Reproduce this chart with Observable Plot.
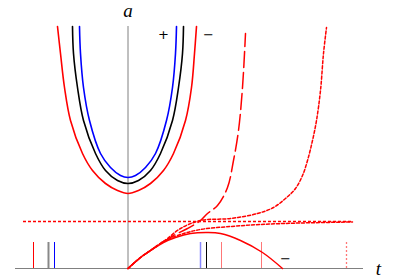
<!DOCTYPE html>
<html>
<head>
<meta charset="utf-8">
<script src="https://cdn.jsdelivr.net/npm/d3@7"></script>
<script src="https://cdn.jsdelivr.net/npm/@observablehq/plot@0.6"></script>
<style>
  html, body { margin: 0; padding: 0; background: #fff; }
  #chart { width: 400px; height: 280px; }
</style>
</head>
<body>
<div id="chart"></div>
<script>
// ---- data (t horizontal, a vertical) ----
const blueT  = [-0.97,-0.95,-0.89,-0.77,-0.55,-0.35,-0.15,0,0.15,0.35,0.55,0.77,0.89,0.95,0.97];
const blueA  = [6.05,5.375,4.525,3.7,2.875,2.525,2.325,2.275,2.325,2.525,2.875,3.7,4.525,5.375,6.05];
const blackT = [-1.11,-1.09,-1.01,-0.89,-0.65,-0.45,-0.21,0,0.21,0.45,0.65,0.89,1.01,1.09,1.11];
const blackA = [6.05,5.375,4.525,3.7,2.875,2.45,2.2,2.125,2.2,2.45,2.875,3.7,4.525,5.375,6.05];
const redUT  = [-1.41,-1.35,-1.27,-1.15,-0.91,-0.71,-0.45,-0.21,0,0.21,0.45,0.71,0.91,1.15,1.27,1.33,1.37];
const redUA  = [6.05,5.375,4.525,3.7,2.875,2.45,2.125,1.95,1.875,1.95,2.125,2.45,2.875,3.7,4.525,5.375,6.05];

const arcT   = [0,0.25,0.45,0.71,0.95,1.25,1.59,1.85,2.25,2.69,3.09];
const arcA   = [0,0.275,0.45,0.65,0.775,0.875,0.9,0.875,0.7,0.4,0];

const dashT  = [0,0.25,0.45,0.71,0.79,0.91,1.19,1.45,1.59,1.79,1.99,2.11,2.21,2.29,2.35];
const dashA  = [0,0.275,0.45,0.675,0.725,0.825,1.0,1.2,1.375,1.575,2.025,2.7,3.45,4.525,5.875];

const riseT  = [0,0.25,0.45,0.71,0.79,1.05,1.45,2.05,2.59,2.91,3.15,3.35,3.49,3.59,3.69,3.77,3.85,3.91,3.97];
const riseA  = [0,0.275,0.45,0.675,0.75,1.0,1.2,1.25,1.375,1.525,1.75,2.0,2.325,2.7,3.2,3.7,4.45,5.375,6.025];

const lowT   = [0,0.25,0.45,0.71,1.05,1.45,2.05,2.65,3.45,4.49];
const lowA   = [0,0.275,0.45,0.675,0.85,0.975,1.05,1.1,1.1375,1.1625];

const steadyA = 1.175;
const steadyT = [-2.09, 4.49];

const markRed = [-1.89];
const markGray = [-1.59];
const markBlue = [-1.47];
const markBlueFaint = [1.45];
const markBlack = [1.57];
const markRedFaint = [1.87, 2.67];
const markRedDotted = [4.37];
const markTop = 0.65;

const axisT = [-2.25, 4.71];
const axisA = [0, 6.05];

const labels = [
  {t: 0, a: 6.45, text: "a"},
  {t: 5.01, a: -0.02, text: "t"}
];
const signs = [
  {t: 0.71, a: 5.85, text: "+"},
  {t: 1.61, a: 5.85, text: "−"},
  {t: 3.15, a: 0.25, text: "−"}
];

const zip = (ts, as) => ts.map((t, i) => ({t, a: as[i]}));

const lineOpts = {x: "t", y: "a", curve: "catmull-rom", strokeLinejoin: "round"};

const chart = Plot.plot({
  width: 400,
  height: 280,
  margin: 0,
  x: {domain: [-2.55, 5.45], axis: null},
  y: {domain: [-0.3, 6.7], axis: null},
  marks: [
    Plot.ruleY([0], {x1: axisT[0], x2: axisT[1], stroke: "#808080", strokeWidth: 1}),
    Plot.ruleX([0], {y1: axisA[0], y2: axisA[1], stroke: "#808080", strokeWidth: 1}),
    Plot.ruleX(markRed, {y1: 0, y2: markTop, stroke: "#ff0000", strokeWidth: 1}),
    Plot.ruleX(markGray, {y1: 0, y2: markTop, stroke: "#888888", strokeWidth: 2}),
    Plot.ruleX(markBlue, {y1: 0, y2: markTop, stroke: "#0000ff", strokeWidth: 1}),
    Plot.ruleX(markBlueFaint, {y1: 0, y2: markTop, stroke: "#8888ff", strokeWidth: 1.5}),
    Plot.ruleX(markBlack, {y1: 0, y2: markTop, stroke: "#000000", strokeWidth: 1}),
    Plot.ruleX(markRedFaint, {y1: 0, y2: markTop, stroke: "#ff7777", strokeWidth: 1}),
    Plot.ruleX(markRedDotted, {y1: 0, y2: markTop, stroke: "#ff7777", strokeWidth: 1.3, strokeDasharray: "2,2"}),
    Plot.ruleY([steadyA], {x1: steadyT[0], x2: steadyT[1], stroke: "#ff0000", strokeWidth: 1.5, strokeDasharray: "3,2"}),
    Plot.line(zip(lowT, lowA), {...lineOpts, stroke: "#ff0000", strokeWidth: 1.5, strokeDasharray: "3,2"}),
    Plot.line(zip(riseT, riseA), {...lineOpts, stroke: "#ff0000", strokeWidth: 1.5, strokeDasharray: "3,2"}),
    Plot.line(zip(dashT, dashA), {...lineOpts, stroke: "#ff0000", strokeWidth: 1.5, strokeDasharray: "16,5"}),
    Plot.line(zip(arcT, arcA), {...lineOpts, stroke: "#ff0000", strokeWidth: 1.5}),
    Plot.line(zip(redUT, redUA), {...lineOpts, stroke: "#ff0000", strokeWidth: 1.6}),
    Plot.line(zip(blackT, blackA), {...lineOpts, stroke: "#000000", strokeWidth: 1.6}),
    Plot.line(zip(blueT, blueA), {...lineOpts, stroke: "#0000ff", strokeWidth: 1.6}),
    Plot.text(labels, {x: "t", y: "a", text: "text", fontSize: 19, fontStyle: "italic",
      fontFamily: "Liberation Serif, DejaVu Serif, serif", fill: "#000"}),
    Plot.text(signs, {x: "t", y: "a", text: "text", fontSize: 13,
      fontFamily: "DejaVu Sans, Liberation Sans, sans-serif", fill: "#000"})
  ]
});
chart.style.background = "#fff";
document.getElementById("chart").appendChild(chart);
</script>
</body>
</html>
